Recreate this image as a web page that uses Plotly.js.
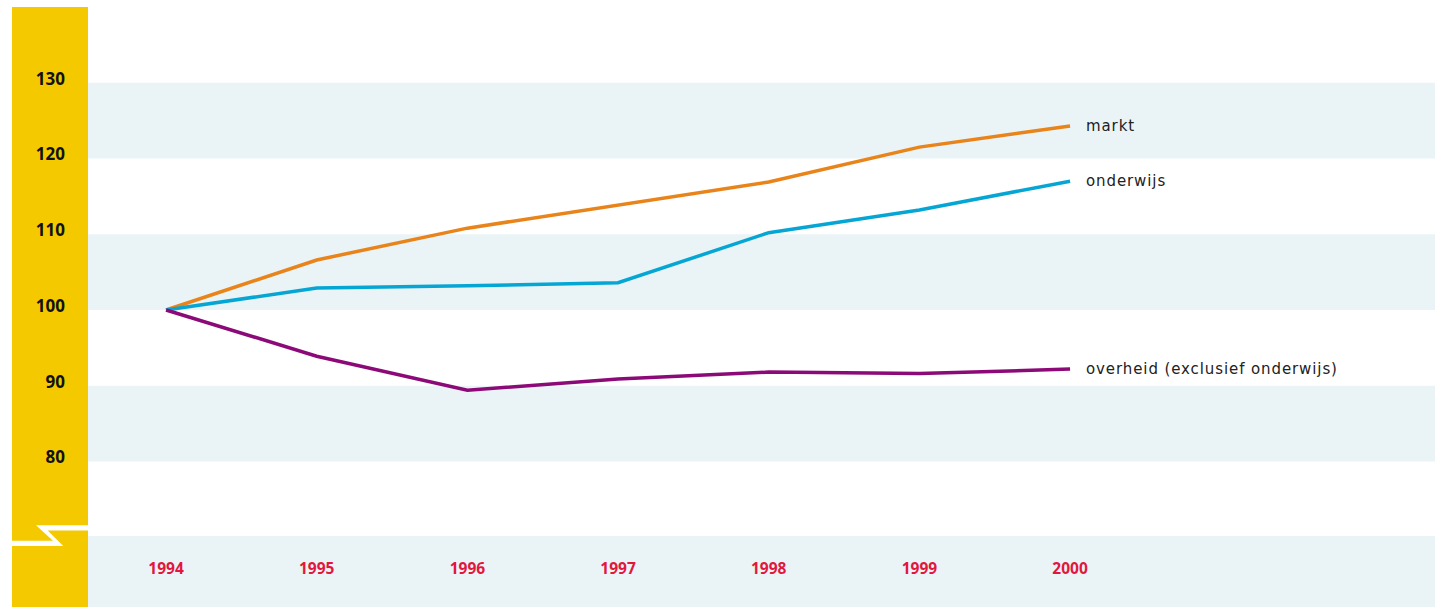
<!DOCTYPE html>
<html>
<head>
<meta charset="utf-8">
<script src="https://cdn.plot.ly/plotly-3.0.1.min.js"></script>
<style>html,body{margin:0;padding:0;background:#fff;}#chart{width:1435px;height:607px;}</style>
</head>
<body>
<div id="chart"></div>
<script>
// ---- data ----
const years = [1994, 1995, 1996, 1997, 1998, 1999, 2000];
const yearLabels = ['1994', '1995', '1996', '1997', '1998', '1999', '2000'];
const seriesNames = ['markt', 'onderwijs', 'overheid (exclusief onderwijs)'];
const markt = [100, 106.6, 110.8, 113.9, 116.9, 121.5, 124.3];
const onderwijs = [100, 102.9, 103.2, 103.6, 110.2, 113.2, 117.0];
const overheid = [100, 93.9, 89.4, 90.9, 91.8, 91.6, 92.2];
const yTicks = [80, 90, 100, 110, 120, 130];
const yTickLabels = ['80', '90', '100', '110', '120', '130'];
const bands = [[120, 130], [100, 110], [80, 90]];

// ---- styling / layout ----
const W = 1435, H = 607, L = 88;
const colors = ['#E8841A', '#06A6D4', '#8C0A78'];
const allSeries = [markt, onderwijs, overheid];
const px = x => (x - L) / (W - L);
const py = y => 1 - y / H;

const traces = allSeries.map((s, i) => ({
  x: years, y: s, type: 'scatter', mode: 'lines', name: seriesNames[i],
  line: {color: colors[i], width: 3.5}, hoverinfo: 'skip'
}));

const shapes = [];
bands.forEach(b => shapes.push({type: 'rect', xref: 'paper', yref: 'y', x0: 0, x1: 1, y0: b[0], y1: b[1],
  fillcolor: '#EAF4F7', line: {width: 0}, layer: 'below'}));
// bottom band behind x labels
shapes.push({type: 'rect', xref: 'paper', yref: 'paper', x0: 0, x1: 1, y0: 0, y1: py(536),
  fillcolor: '#EAF4F7', line: {width: 0}, layer: 'below'});
// yellow bar
shapes.push({type: 'rect', xref: 'paper', yref: 'paper', x0: px(12), x1: 0, y0: 0, y1: py(7),
  fillcolor: '#F5C900', line: {width: 0}, layer: 'below'});
// axis break
const pts = [[36, 525.3], [88, 525.3], [88, 530.5], [47.7, 530.5], [63.3, 546], [12, 546], [12, 540.7], [53, 540.7]];
let path = pts.map((p, i) => (i ? 'L' : 'M') + px(p[0]).toFixed(5) + ',' + py(p[1]).toFixed(5)).join(' ') + ' Z';
shapes.push({type: 'path', xref: 'paper', yref: 'paper', path: path, fillcolor: '#FFFFFF', line: {width: 0}, layer: 'below'});

const annotations = allSeries.map((s, i) => ({
  x: years[years.length - 1], y: s[s.length - 1], xref: 'x', yref: 'y',
  text: '<span style="letter-spacing:0.9px">' + seriesNames[i] + '</span>',
  showarrow: false, xanchor: 'left', yanchor: 'middle', xshift: 14,
  font: {family: 'DejaVu Sans', size: 15, color: '#222222'}
}));

const layout = {
  width: W, height: H,
  margin: {l: L, r: 0, t: 0, b: 0, pad: 0},
  paper_bgcolor: '#FFFFFF', plot_bgcolor: 'rgba(0,0,0,0)',
  showlegend: false,
  xaxis: {
    range: [1993.482, 2002.422], tickvals: years, ticktext: yearLabels,
    anchor: 'free', position: py(557.5), showgrid: false, zeroline: false, showline: false, ticks: '',
    tickfont: {family: 'Open Sans', size: 15.5, color: '#E2173D', weight: 'bold'}, fixedrange: true
  },
  yaxis: {
    range: [60.79, 140.92], tickvals: yTicks, ticktext: yTickLabels,
    showgrid: false, zeroline: false, showline: false, ticks: '',
    ticklabelstandoff: 22, ticklabelshift: -4,
    tickfont: {family: 'Open Sans', size: 17, color: '#111111', weight: 'bold'}, fixedrange: true
  },
  shapes: shapes,
  annotations: annotations
};

Plotly.newPlot('chart', traces, layout, {displayModeBar: false, staticPlot: true});
</script>
</body>
</html>
